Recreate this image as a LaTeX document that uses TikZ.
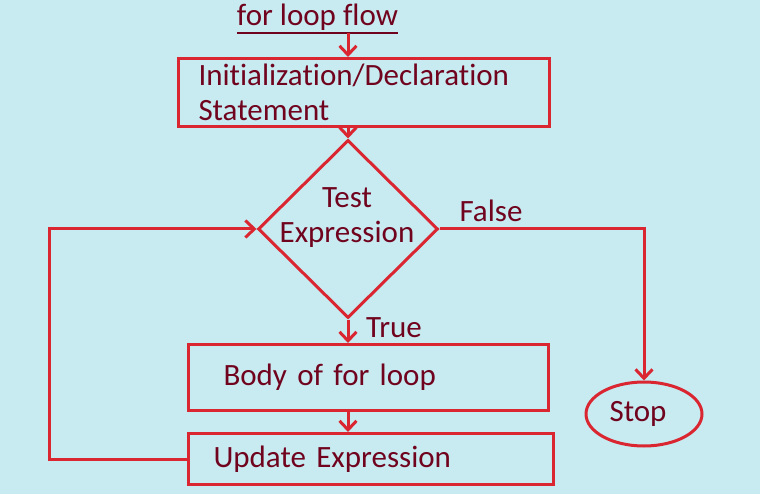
\documentclass[tikz,border=0pt]{standalone}
\usepackage{fontspec}
\setmainfont{Carlito}[Ligatures=NoCommon]
\usetikzlibrary{arrows.meta,shapes.geometric,positioning}
\definecolor{bgcyan}{RGB}{200,235,242}
\definecolor{flowred}{RGB}{218,38,48}
\definecolor{txtmaroon}{RGB}{112,4,30}
\tikzset{
  lbl/.style={text=txtmaroon, font=\fontsize{31}{35}\selectfont},
  flowbox/.style={lbl, draw=flowred, line width=3pt, rectangle, align=left, inner ysep=0pt, anchor=north west},
  flowarrow/.style={draw=flowred, line width=3pt, -{Straight Barb[length=9pt,width=17pt]}},
}
\begin{document}
\begin{tikzpicture}[x=1pt,y=-1pt]
\fill[bgcyan] (0,0) rectangle (760,494);
% title
\node[lbl, anchor=base, inner sep=0pt] (title) at (317.5,26) {for loop flow};
\draw[txtmaroon, line width=1.8pt] ([yshift=-7pt]title.base west) -- ([yshift=-7pt]title.base east);
% steps
\node[flowbox, text width=331pt, inner xsep=20pt, minimum height=68pt] (init) at (177,57) {Initialization/Declaration\\Statement};
\node[diamond, draw=flowred, line width=3pt, minimum width=180pt, minimum height=178pt, inner sep=0pt] (test) at (348,229) {};
\node[lbl, align=center] (testtxt) at (347,218) {Test\\Expression};
\node[flowbox, text width=290pt, inner xsep=35pt, minimum height=66pt] (body) at (187,343) {Body of for loop};
\node[flowbox, text width=315pt, inner xsep=25pt, minimum height=51pt] (update) at (187,432) {Update Expression};
\node[lbl, ellipse, draw=flowred, line width=3pt, minimum width=116pt, minimum height=64pt, inner sep=0pt] (stop) at (644,414) {Stop\hspace*{12pt}};
\coordinate (loopx) at (49,0);
% labels
\node[lbl, anchor=base] (truelbl) at (394,337) {True};
\node[lbl, anchor=base] (falselbl) at (491,222) {False};
% connectors
\draw[flowarrow] ([yshift=-2pt]title.south -| test.north) -- (init.north -| test.north);
\draw[flowarrow] (init.south -| test.north) -- (test.north);
\draw[flowarrow] (test.south) -- (body.north -| test.south);
\draw[flowarrow] (body.south -| test.south) -- (update.north -| test.south);
\draw[flowarrow] (update.west) -- (update.west -| loopx) |- (test.west);
\draw[flowarrow] (test.east) -| (stop.north);
\end{tikzpicture}
\end{document}
